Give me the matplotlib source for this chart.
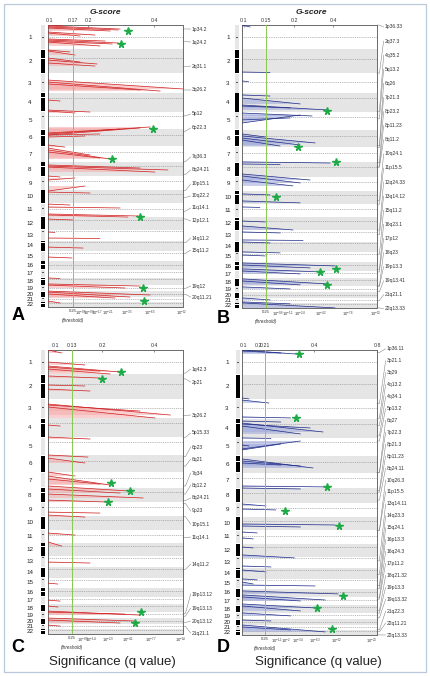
import numpy as np
import matplotlib
matplotlib.use('Agg')
import matplotlib.pyplot as plt
from matplotlib.patches import Rectangle, Polygon

plt.rcParams['font.family'] = ['Liberation Sans', 'DejaVu Sans']
plt.rcParams['mathtext.fontset'] = 'custom'
plt.rcParams['mathtext.rm'] = 'Liberation Sans'
plt.rcParams['mathtext.it'] = 'Liberation Sans:italic'

# chromosome sizes and centromere positions (Mb)
chrom_len = [247, 243, 199, 191, 181, 171, 159, 146, 140, 135, 134, 132, 114, 106, 100, 89, 79, 76, 64, 62, 47, 50]
centromere = [124, 93, 91, 50, 48, 60, 59, 45, 49, 40, 53, 35, 17, 17, 18, 36, 24, 17, 26, 28, 13, 13]

# ---- panel A (red) ----
a_start = [0, 10, 20, 30, 71, 81, 142, 152, 163, 173, 254, 264, 335, 356, 386, 559, 579, 599, 762, 864, 874,
           1107, 1118, 1097, 1118, 1138, 1219, 1250, 1270, 1290, 1422, 1433, 1443, 1534, 1575, 1687, 1697,
           1819, 1849, 1920, 1930, 1971, 2103, 2164, 2256, 2357, 2570, 2631, 2642, 2703, 2713, 2733, 2804]
a_peak = [5, 41, 51, 61, 102, 112, 163, 183, 193, 213, 274, 305, 376, 396, 417, 650, 671, 660, 772, 884, 894,
          1036, 1046, 1057, 1107, 1128, 1240, 1321, 1361, 1351, 1453, 1473, 1494, 1544, 1554, 1636, 1707,
          1829, 1859, 1941, 1951, 1981, 2108, 2169, 2266, 2367, 2575, 2652, 2672, 2743, 2764, 2774, 2824]
a_g = [0.138, 0.297, 0.291, 0.267, 0.221, 0.184, 0.252, 0.291, 0.273, 0.236, 0.161, 0.174, 0.184, 0.227, 0.221,
       0.49, 0.419, 0.358, 0.132, 0.206, 0.174, 0.388, 0.358, 0.297, 0.236, 0.194, 0.146, 0.206, 0.267, 0.236,
       0.358, 0.443, 0.403, 0.132, 0.174, 0.194, 0.206, 0.161, 0.297, 0.358, 0.321, 0.17, 0.117, 0.236, 0.19,
       0.167, 0.132, 0.358, 0.312, 0.388, 0.327, 0.282, 0.132]
a_star_pos = [61, 193, 1057, 1361, 1951, 2672, 2804]
a_star_g = [0.321, 0.3, 0.397, 0.273, 0.358, 0.367, 0.37]
a_bands = ['1p34.2', '1q24.2', '2q31.1', '3q26.2', '5p12', '6p22.3', '7q36.3', '8q24.21', '10p15.1', '10q22.2',
           '11q14.1', '12p12.1', '14q11.2', '15q11.2', '19q12', '20q11.21']
a_band_pos = [40, 168, 422, 660, 923, 1079, 1389, 1519, 1682, 1752, 1892, 1970, 2213, 2320, 2676, 2736]
a_label_pos = [41, 173, 417, 660, 904, 1046, 1341, 1473, 1615, 1737, 1859, 1991, 2164, 2286, 2652, 2764]
a_top = [0.1, 0.17, 0.2, 0.4]
a_q_g = [0.17, 0.186, 0.202, 0.226, 0.261, 0.318, 0.388, 0.487]
a_q_labels = ['0.25', '10$^{-0.6}$', '10$^{-0.9}$', '10$^{-1.7}$', '10$^{-2.1}$', '10$^{-3.5}$', '10$^{-6.5}$', '10$^{-12}$']

# ---- panel B (blue) ----
b_start = [0, 476, 567, 708, 739, 810, 820, 891, 992, 961, 1123, 1144, 1164, 1103, 1386, 1407, 1508, 1528, 1569,
           1710, 1781, 1842, 1984, 2034, 2095, 2176, 2196, 2297, 2328, 2409, 2429, 2469, 2490, 2570, 2591, 2651,
           2763, 2813, 2803]
b_peak = [20, 481, 572, 719, 799, 860, 840, 921, 911, 941, 1194, 1214, 1225, 1133, 1397, 1412, 1569, 1599, 1629,
          1720, 1801, 1847, 1994, 2075, 2105, 2181, 2206, 2307, 2338, 2439, 2459, 2500, 2520, 2621, 2631, 2672,
          2783, 2864, 2823]
b_g = [0.114, 0.157, 0.11, 0.157, 0.231, 0.369, 0.193, 0.292, 0.231, 0.193, 0.308, 0.231, 0.175, 0.148, 0.385,
       0.175, 0.282, 0.231, 0.198, 0.157, 0.231, 0.136, 0.148, 0.198, 0.175, 0.246, 0.157, 0.175, 0.148, 0.41,
       0.282, 0.334, 0.231, 0.369, 0.231, 0.193, 0.157, 0.41, 0.193]
b_star_pos = [870, 1235, 1386, 1741, 2500, 2469, 2631]
b_star_g = [0.369, 0.221, 0.415, 0.168, 0.334, 0.415, 0.369]
b_bands = ['1p36.33', '2q37.3', '4q35.2', '5q13.2', '6q26', '7p21.3', '8p23.2', '8p11.23', '8q11.2', '10q24.1',
           '11p15.5', '12q24.33', '13q14.12', '15q11.2', '16q23.1', '17p12', '18q23', '19p13.3', '19q13.41',
           '21q21.1', '22q13.33']
b_band_pos = [1, 487, 877, 950, 1223, 1242, 1395, 1429, 1441, 1774, 1814, 2076, 2123, 2320, 2475, 2500, 2641,
              2644, 2700, 2788, 2864]
b_top = [0.1, 0.15, 0.2, 0.4]
b_q_g = [0.15, 0.172, 0.19, 0.231, 0.339, 0.477, 0.62]
b_q_labels = ['0.25', '10$^{-0.6}$', '10$^{-1.1}$', '10$^{-2.4}$', '10$^{-4.2}$', '10$^{-7.6}$', '10$^{-13}$']

# ---- panel C (red) ----
c_start = [0, 121, 161, 172, 192, 262, 353, 394, 545, 555, 575, 757, 878, 1059, 1090, 1231, 1271, 1301, 1372,
           1402, 1453, 1514, 1635, 1665, 1846, 1937, 2139, 2351, 2523, 2583, 2634, 2644, 2704, 2724, 2775]
c_peak = [30, 151, 222, 212, 242, 283, 363, 414, 656, 616, 686, 767, 898, 1080, 1140, 1271, 1362, 1352, 1423,
          1443, 1493, 1534, 1645, 1685, 1867, 1978, 2149, 2361, 2533, 2593, 2674, 2664, 2734, 2754, 2785]
c_g = [0.112, 0.16, 0.269, 0.195, 0.231, 0.195, 0.16, 0.172, 0.462, 0.346, 0.404, 0.109, 0.172, 0.167, 0.16,
       0.137, 0.231, 0.195, 0.308, 0.269, 0.358, 0.223, 0.195, 0.16, 0.137, 0.112, 0.172, 0.105, 0.109, 0.105,
       0.346, 0.289, 0.327, 0.269, 0.109]
c_star_pos = [222, 293, 1342, 1423, 1534, 2644, 2755]
c_star_g = [0.273, 0.2, 0.235, 0.308, 0.223, 0.35, 0.327]
c_bands = ['1q42.3', '2p21', '3q26.2', '5p15.33', '6p23', '6q21', '7q34', '8q12.2', '8q24.21', '9p23', '10p15.1',
           '11q14.1', '14q11.2', '19p13.12', '19q13.13', '20q13.12', '21q21.1']
c_band_pos = [233, 292, 660, 881, 1076, 1171, 1372, 1453, 1519, 1547, 1682, 1892, 2213, 2657, 2685, 2749, 2788]
c_label_pos = [192, 323, 656, 837, 979, 1100, 1241, 1362, 1493, 1624, 1756, 1887, 2159, 2462, 2603, 2734, 2855]
c_top = [0.1, 0.13, 0.2, 0.4]
c_q_g = [0.13, 0.155, 0.174, 0.223, 0.3, 0.388, 0.5]
c_q_labels = ['0.25', '10$^{-0.9}$', '10$^{-1.4}$', '10$^{-2.3}$', '10$^{-4.1}$', '10$^{-7.7}$', '10$^{-14}$']

# ---- panel D (blue) ----
d_start = [0, 10, 482, 503, 673, 714, 734, 744, 764, 995, 1005, 884, 955, 1095, 1116, 1136, 1367, 1387, 1548,
           1598, 1749, 1769, 1829, 1889, 1980, 2060, 2171, 2211, 2301, 2332, 2362, 2422, 2462, 2482, 2553, 2573,
           2643, 2764, 2784, 2714]
d_peak = [40, 30, 492, 533, 683, 724, 824, 784, 844, 915, 945, 889, 965, 1186, 1166, 1156, 1377, 1397, 1568,
          1608, 1759, 1779, 1839, 1899, 1990, 2090, 2181, 2231, 2311, 2352, 2372, 2452, 2513, 2523, 2593, 2623,
          2673, 2834, 2814, 2724]
d_g = [0.328, 0.271, 0.135, 0.225, 0.309, 0.271, 0.457, 0.385, 0.347, 0.347, 0.271, 0.233, 0.135, 0.396, 0.347,
       0.271, 0.502, 0.347, 0.214, 0.252, 0.533, 0.347, 0.194, 0.165, 0.165, 0.324, 0.233, 0.214, 0.194, 0.165,
       0.406, 0.552, 0.47, 0.347, 0.406, 0.347, 0.309, 0.47, 0.309, 0.233]
d_star_pos = [40, 683, 1377, 1618, 1769, 2472, 2593, 2804]
d_star_g = [0.343, 0.332, 0.483, 0.286, 0.559, 0.584, 0.419, 0.514]
d_bands = ['1p36.11', '3p21.1', '3q29', '4q13.2', '4q34.1', '5p13.2', '6q27', '7p22.3', '8p21.3', '8p11.23',
           '8q24.11', '10q26.3', '11p15.5', '13q14.11', '14q23.3', '15q24.1', '16p13.3', '16q24.3', '17p11.2',
           '18q21.32', '19p13.3', '19q13.32', '21q22.3', '22q11.21', '22q13.33']
d_band_pos = [25, 540, 687, 759, 864, 915, 1230, 1233, 1412, 1429, 1509, 1811, 1814, 2120, 2257, 2370, 2400,
              2486, 2505, 2621, 2644, 2692, 2813, 2833, 2864]
d_top = [0.1, 0.2, 0.21, 0.4, 0.8]
d_q_g = [0.21, 0.258, 0.29, 0.339, 0.406, 0.546, 0.768]
d_q_labels = ['0.25', '10$^{-1.1}$', '10$^{-2}$', '10$^{-3.4}$', '10$^{-6.3}$', '10$^{-12}$', '10$^{-23}$']

offsets = np.concatenate([[0], np.cumsum(chrom_len)])
genome = offsets[-1]

W, H = 430, 676
fig = plt.figure(figsize=(W / 100, H / 100), dpi=100)


def px_rect(x0, y0, x1, y1):
    return [x0 / W, 1 - y1 / H, (x1 - x0) / W, (y1 - y0) / H]


red = ('#cf1f1f', '#f5b0b0')
blue = ('#1e2b86', '#a3acdc')

panels = [
    dict(rect=(48, 25, 183, 307), ideo=41, num=30, gk=[0.097, 0.1, 0.17, 0.2, 0.4, 0.49], pk=[0, 1, 25, 40, 106, 135],
         thr=0.17, start=a_start, peak=a_peak, g=a_g, star_pos=a_star_pos, star_g=a_star_g, bands=a_bands,
         band_pos=a_band_pos, label_pos=a_label_pos, lab_x=1.067, top=a_top, q_g=a_q_g, q_labels=a_q_labels,
         colors=red, letter='A', letter_xy=(18, 315), gscore=(105, 13)),
    dict(rect=(242, 25, 377, 308), ideo=235, num=228, gk=[0.095, 0.1, 0.15, 0.2, 0.4, 0.626],
         pk=[0, 2, 24, 52, 91, 135], thr=0.15, start=b_start, peak=b_peak, g=b_g, star_pos=b_star_pos,
         star_g=b_star_g, bands=b_bands, band_pos=b_band_pos,
         label_pos=list(np.linspace(0.007, 1.003, len(b_bands)) * genome), lab_x=1.059, top=b_top,
         q_g=b_q_g, q_labels=b_q_labels, colors=blue, letter='B', letter_xy=(223, 318), gscore=(311, 13)),
    dict(rect=(48, 350, 183, 634), ideo=41, num=30, gk=[0.088, 0.1, 0.13, 0.2, 0.4, 0.51], pk=[0, 7, 24, 54, 106, 135],
         thr=0.13, start=c_start, peak=c_peak, g=c_g, star_pos=c_star_pos, star_g=c_star_g, bands=c_bands,
         band_pos=c_band_pos, label_pos=c_label_pos, lab_x=1.067, top=c_top, q_g=c_q_g, q_labels=c_q_labels,
         colors=red, letter='C', letter_xy=(18, 648), gscore=None),
    dict(rect=(242, 350, 377, 635), ideo=236, num=227, gk=[0.088, 0.1, 0.2, 0.21, 0.4, 0.8],
         pk=[0, 2, 16, 23, 72, 135], thr=0.21, start=d_start, peak=d_peak, g=d_g, star_pos=d_star_pos,
         star_g=d_star_g, bands=d_bands, band_pos=d_band_pos,
         label_pos=list(np.linspace(-0.004, 1.0, len(d_bands)) * genome), lab_x=1.074, top=d_top,
         q_g=d_q_g, q_labels=d_q_labels, colors=blue, letter='D', letter_xy=(223, 648), gscore=None),
]

for p in panels:
    x0, y0, x1, y1 = p['rect']
    ax = fig.add_axes(px_rect(x0, y0, x1, y1))
    gk = np.array(p['gk'])
    pk = np.array(p['pk']) / 135.0
    ax.set_xscale('function', functions=(lambda v, gk=gk, pk=pk: np.interp(v, gk, pk),
                                         lambda v, gk=gk, pk=pk: np.interp(v, pk, gk)))
    ax.set_xlim(gk[0], gk[-1])
    ax.set_ylim(genome, 0)
    dark, light = p['colors']

    # chromosome bands and centromere lines
    for i in range(22):
        if i % 2 == 1:
            ax.axhspan(offsets[i], offsets[i + 1], color='#e5e5e5', lw=0, zorder=0)
        ax.axhline(offsets[i] + centromere[i], color='#8a8a8a', ls=(0, (1.5, 1.5)), lw=0.45, zorder=1)

    # G-score streaks
    base = gk[0]
    for s, e, g in zip(p['start'], p['peak'], p['g']):
        ax.add_patch(Polygon([(base, s), (g, e), (base, e)], closed=True, fc=light, ec='none', alpha=0.6, zorder=2))
        ax.plot([base, g], [s, e], color=dark, lw=0.5, zorder=3)

    ax.axvline(p['thr'], color='#8cc850', lw=0.7, zorder=4)
    ax.plot(p['star_g'], p['star_pos'], ls='none', marker='*', ms=5.5, color='#1faa48', mec='#1faa48', zorder=5)

    # top G-score axis
    ax.xaxis.tick_top()
    ax.set_xticks(p['top'])
    ax.set_xticklabels([str(t) for t in p['top']])
    ax.xaxis.set_minor_locator(matplotlib.ticker.NullLocator())
    ax.tick_params(axis='x', top=True, bottom=False, labelsize=3.8, length=1.5, width=0.4, pad=1.5,
                   colors='#333333', direction='in')
    ax.set_yticks([])
    for sp in ax.spines.values():
        sp.set_color('#6b6b6b')
        sp.set_linewidth(0.7)

    # bottom q-value labels
    xt = ax.get_xaxis_transform()
    for g, lab in zip(p['q_g'], p['q_labels']):
        ax.text(g, -0.006, lab, transform=xt, ha='center', va='top', fontsize=3.0, color='#333333')
    ax.text(p['thr'], -0.047, '(threshold)', transform=xt, ha='center', va='center', fontsize=3.3,
            style='italic', color='#333333')

    # cytoband labels with leader lines
    yt = ax.get_yaxis_transform()
    for name, bp, lp in zip(p['bands'], p['band_pos'], p['label_pos']):
        ax.plot([1.0, 1.018, p['lab_x'] - 0.01], [bp, bp, lp], transform=yt, color='#7a7a7a', lw=0.35,
                clip_on=False)
        ax.text(p['lab_x'], lp, name, transform=yt, ha='left', va='center', fontsize=3.6, color='#333333')

    # chromosome ideogram
    ia = fig.add_axes(px_rect(p['ideo'], y0, p['ideo'] + 4, y1))
    ia.set_xlim(0, 1)
    ia.set_ylim(genome, 0)
    ia.axis('off')
    for i in range(22):
        s, e = offsets[i], offsets[i + 1]
        c = s + centromere[i]
        if i % 2 == 1:
            ia.add_patch(Rectangle((0, s + 4), 1, c - s - 7, fc='black', lw=0))
            ia.add_patch(Rectangle((0, c + 3), 1, e - c - 7, fc='black', lw=0))
        else:
            ia.add_patch(Rectangle((0, s + 4), 1, e - s - 8, fc='#e6e6e6', lw=0))
            ia.add_patch(Rectangle((0.15, c - 4), 0.7, 8, fc='#555555', lw=0))
        ia.text((p['num'] - p['ideo']) / 4.0, (s + e) / 2, str(i + 1), ha='center', va='center',
                fontsize=4.5, color='#222222')

    lx, ly = p['letter_xy']
    fig.text(lx / W, 1 - ly / H, p['letter'], ha='center', va='center', fontsize=13, fontweight='bold')
    if p['gscore']:
        gx, gy = p['gscore']
        fig.text(gx / W, 1 - gy / H, 'G-score', ha='center', va='center', fontsize=6, fontweight='bold',
                 style='italic', color='#222222')

for cx in (112, 318):
    fig.text(cx / W, 1 - 662 / H, 'Significance (q value)', ha='center', va='center', fontsize=9.5, color='#222222')

fig.add_artist(Rectangle((4 / W, 1 - 672 / H), 422 / W, 668 / H, transform=fig.transFigure, fill=False,
                         ec='#b9c9da', lw=0.9))

fig.savefig('out.png', dpi=100)
